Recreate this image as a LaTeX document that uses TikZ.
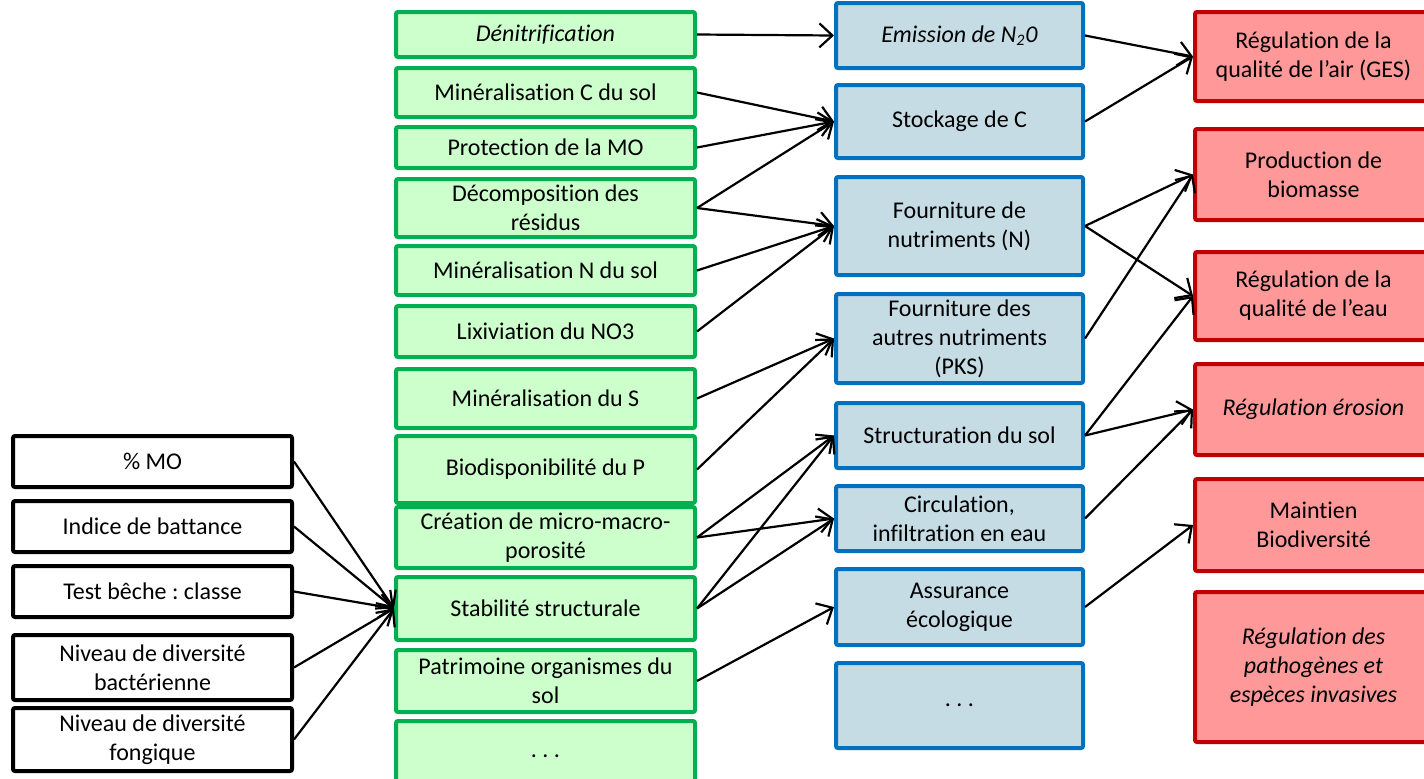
\documentclass[tikz,border=0pt]{standalone}
\usepackage{fontspec}
\setmainfont[RawFeature={-liga;-clig;-calt}]{Carlito}
\usetikzlibrary{arrows.meta}
\frenchspacing

\definecolor{vertbord}{HTML}{00B050}
\definecolor{vertfond}{HTML}{CCFFCC}
\definecolor{bleubord}{HTML}{0070C0}
\definecolor{bleufond}{HTML}{C5DCE5}
\definecolor{rougebord}{HTML}{C00000}
\definecolor{rougefond}{HTML}{FF9999}

\begin{document}
\begin{tikzpicture}[x=0.5pt,y=0.5pt,
    box/.style={line width=2pt,rounded corners=1pt,align=center,inner sep=1pt,
        font=\fontsize{12}{14.5}\selectfont},
    indic/.style={box,draw=black,fill=white,minimum width=139.5pt},
    fonct/.style={box,draw=vertbord,fill=vertfond,minimum width=149.5pt},
    propr/.style={box,draw=bleubord,fill=bleufond,minimum width=123.5pt},
    serv/.style={box,draw=rougebord,fill=rougefond,minimum width=118.5pt},
    lien/.style={-{Straight Barb[length=6.5pt,width=12pt]},line width=1.1pt}]
    \clip (0,0) rectangle (1424,-778);
%
    \node[indic,minimum height=25.5pt] (mo) at (152.5,-461.5) {\% MO};
    \node[indic,minimum height=25.5pt] (batt) at (152.5,-526.5) {Indice de battance};
    \node[indic,minimum height=25.5pt] (beche) at (152.5,-591.5) {Test bêche : classe};
    \node[indic,minimum height=32.5pt] (bact) at (152.5,-667.5)
        {Niveau de diversité\\bactérienne};
    \node[indic,minimum height=31.5pt] (fong) at (152.5,-739.5)
        {Niveau de diversité\\fongique};
%
    \node[fonct,minimum height=22.5pt] (denit) at (545.5,-34.5) {\textit{Dénitrification}};
    \node[fonct,minimum height=24.5pt] (minc) at (545.5,-92.5) {Minéralisation C du sol};
    \node[fonct,minimum height=20.5pt] (protmo) at (545.5,-147.5) {Protection de la MO};
    \node[fonct,minimum height=29pt] (decomp) at (545.5,-208)
        {Décomposition des\\résidus};
    \node[fonct,minimum height=24.5pt] (minn) at (545.5,-270.5) {Minéralisation N du sol};
    \node[fonct,minimum height=25.5pt] (lixi) at (545.5,-331.5) {Lixiviation du NO3};
    \node[fonct,minimum height=29.5pt] (mins) at (545.5,-398.5) {Minéralisation du S};
    \node[fonct,minimum height=33.5pt] (biop) at (545.5,-469.5) {Biodisponibilité du P};
    \node[fonct,minimum height=30.5pt] (poro) at (545.5,-537.5)
        {Création de micro-macro-\\porosité};
    \node[fonct,minimum height=31.5pt] (stab) at (545.5,-608.5) {Stabilité structurale};
    \node[fonct,minimum height=31pt] (patri) at (545.5,-681)
        {Patrimoine organismes du\\sol};
    \node[fonct,minimum height=35pt] (fautre) at (545.5,-756) {. . .};
%
    \node[propr,minimum height=32.5pt] (emis) at (959.5,-35.5)
        {\textit{Emission de N\textsubscript{2}0}};
    \node[propr,minimum height=36.5pt] (stock) at (959.5,-121.5) {Stockage de C};
    \node[propr,minimum height=49pt] (fourn) at (959.5,-226)
        {Fourniture de\\nutriments (N)};
    \node[propr,minimum height=44.5pt] (fpks) at (959.5,-338.5)
        {Fourniture des\\autres nutriments\\(PKS)};
    \node[propr,minimum height=32.5pt] (struct) at (959.5,-435.5) {Structuration du sol};
    \node[propr,minimum height=32.5pt] (circ) at (959.5,-518.5)
        {Circulation,\\infiltration en eau};
    \node[propr,minimum height=38pt] (assur) at (959.5,-607)
        {Assurance\\écologique};
    \node[propr,minimum height=42.5pt] (pautre) at (959.5,-705.5) {. . .};
%
    \node[serv,minimum height=44.5pt] (air) at (1313.5,-56.5)
        {Régulation de la\\qualité de l’air (GES)};
    \node[serv,minimum height=45.5pt] (prod) at (1313.5,-174.5)
        {Production de\\biomasse};
    \node[serv,minimum height=44pt] (eau) at (1313.5,-296)
        {Régulation de la\\qualité de l’eau};
    \node[serv,minimum height=45.5pt] (eros) at (1313.5,-409.5)
        {\textit{Régulation érosion}};
    \node[serv,minimum height=46pt] (biodiv) at (1313.5,-525)
        {Maintien\\Biodiversité};
    \node[serv,minimum height=75pt] (patho) at (1313.5,-667)
        {\textit{Régulation des}\\\textit{pathogènes et}\\\textit{espèces invasives}};
%
    \draw[lien] (mo.east) -- (stab.west);
    \draw[lien] (batt.east) -- (stab.west);
    \draw[lien] (beche.east) -- (stab.west);
    \draw[lien] (bact.east) -- (stab.west);
    \draw[lien] (fong.east) -- (stab.west);
%
    \draw[lien] (denit.east) -- (emis.west);
    \draw[lien] (minc.east) -- (stock.west);
    \draw[lien] (protmo.east) -- (stock.west);
    \draw[lien] (decomp.east) -- (stock.west);
    \draw[lien] (decomp.east) -- (fourn.west);
    \draw[lien] (minn.east) -- (fourn.west);
    \draw[lien] (lixi.east) -- (fourn.west);
    \draw[lien] (mins.east) -- (fpks.west);
    \draw[lien] (biop.east) -- (fpks.west);
    \draw[lien] (poro.east) -- (struct.west);
    \draw[lien] (poro.east) -- (circ.west);
    \draw[lien] (stab.east) -- (struct.west);
    \draw[lien] (stab.east) -- (circ.west);
    \draw[lien] (patri.east) -- (assur.west);
%
    \draw[lien] (emis.east) -- (air.west);
    \draw[lien] (stock.east) -- (air.west);
    \draw[lien] (fourn.east) -- (prod.west);
    \draw[lien] (fourn.east) -- (eau.west);
    \draw[lien] (fpks.east) -- (prod.west);
    \draw[lien] (struct.east) -- (eau.west);
    \draw[lien] (struct.east) -- (eros.west);
    \draw[lien] (circ.east) -- (eros.west);
    \draw[lien] (assur.east) -- (biodiv.west);
\end{tikzpicture}
\end{document}
